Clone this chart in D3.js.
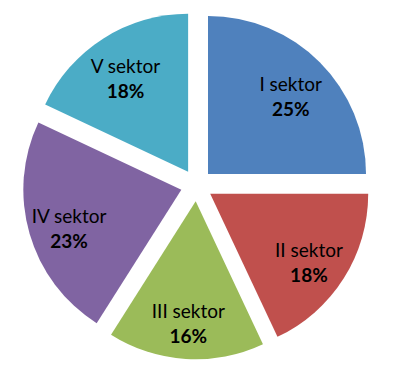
<!DOCTYPE html>
<html>
<head>
<meta charset="utf-8">
<script src="https://cdn.jsdelivr.net/npm/d3@7"></script>
<style>
  body { margin: 0; background: #fff; }
  .slice-label { font-family: Lato, "Liberation Sans", sans-serif; font-size: 19px; fill: #000; }
  .slice-value { font-weight: bold; }
</style>
</head>
<body>
<svg class="pie-chart" width="413" height="384"></svg>
<script>
const sectors = ['I sektor', 'II sektor', 'III sektor', 'IV sektor', 'V sektor'];
const shares = [25, 18, 16, 23, 18];
const colours = ['#4F81BD', '#C0504D', '#9BBB59', '#8064A2', '#4BACC6'];

const centre = { x: 196.7, y: 185.3 };
const radius = 158;
const explode = 16;

const svg = d3.select('.pie-chart');
const g = svg.append('g').attr('transform', `translate(${centre.x},${centre.y})`);

const pie = d3.pie().sort(null).value(d => d.value);
const arc = d3.arc().innerRadius(0).outerRadius(radius);
// labels sit a bit inside the middle of each wedge
const labelArc = d3.arc().innerRadius(radius * 0.74).outerRadius(radius * 0.74);

const data = sectors.map((name, i) => ({ name, value: shares[i] }));
const arcs = pie(data);

const colour = d3.scaleOrdinal().domain(sectors).range(colours);

function shift(d) {
  const mid = (d.startAngle + d.endAngle) / 2;
  return [explode * Math.sin(mid), -explode * Math.cos(mid)];
}

const slices = g.selectAll('.slice')
  .data(arcs)
  .join('g')
  .attr('class', 'slice')
  .attr('transform', d => `translate(${shift(d)})`);

slices.append('path')
  .attr('d', arc)
  .attr('fill', d => colour(d.data.name));

const labels = slices.append('text')
  .attr('class', 'slice-label')
  .attr('text-anchor', 'middle')
  .attr('transform', d => {
    const [x, y] = labelArc.centroid(d);
    return `translate(${x},${y - 6.5})`;
  });

labels.append('tspan')
  .attr('x', 0)
  .attr('dy', '0.35em')
  .text(d => d.data.name);

labels.append('tspan')
  .attr('class', 'slice-value')
  .attr('x', 0)
  .attr('dy', 25)
  .text(d => d.data.value + '%');
</script>
</body>
</html>
